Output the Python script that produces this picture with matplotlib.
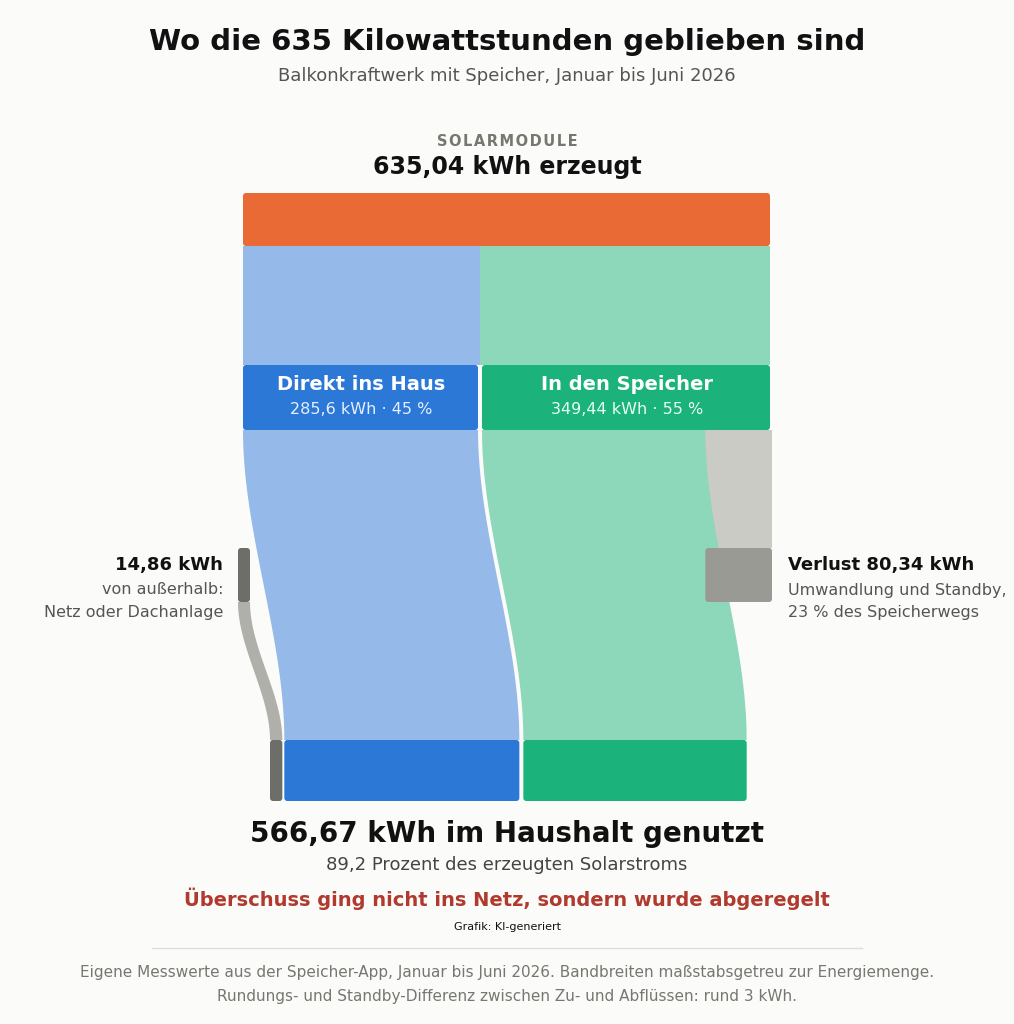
"""Sankey-style Energiefluss eines Balkonkraftwerks mit Speicher."""
import matplotlib

matplotlib.use("Agg")
import matplotlib.pyplot as plt
import numpy as np
from matplotlib.patches import FancyBboxPatch, Rectangle

plt.rcParams["font.family"] = ["DejaVu Sans"]

# data (kWh)
generated = 635.04
direct = 285.6
storage = 349.44
loss = 80.34
outside = 14.86
used = 566.67
share_direct = 45
share_storage = 55

BG = "#fbfbfa"
ORANGE = "#ea6a35"
BLUE_L, BLUE = "#95b9e9", "#2b78d6"
GREEN_L, GREEN = "#8dd7bb", "#1bb27c"
GRAY_L, GRAY_N, GRAY_D, GRAY_B = "#cbcbc6", "#9a9a94", "#6e6e68", "#b0b0aa"

fig = plt.figure(figsize=(10.14, 10.24), dpi=100, facecolor=BG)
ax = fig.add_axes([0, 0, 1, 1])
ax.set_xlim(0, 1014)
ax.set_ylim(1024, 0)
ax.axis("off")

scale = 527 / generated  # px per kWh
x0 = 243
gap = 2


def node(x, y, w, h, color):
    ax.add_patch(FancyBboxPatch((x, y), w, h, boxstyle="round,pad=0,rounding_size=3",
                                fc=color, ec="none", zorder=3))


def band(xl0, xr0, y0, xl1, xr1, y1, color, z=1):
    t = np.linspace(0, 1, 120)
    s = 3 * t ** 2 - 2 * t ** 3
    ys = y0 + (y1 - y0) * t
    left = xl0 + (xl1 - xl0) * s
    right = xr0 + (xr1 - xr0) * s
    ax.fill(np.r_[left, right[::-1]], np.r_[ys, ys[::-1]], color=color, lw=0, zorder=z)


w_dir = direct * scale
w_sto = storage * scale
w_loss = loss * scale
w_sto_house = (storage - loss) * scale
w_out = outside * scale

# top node
node(x0, 193, w_dir + w_sto, 53, ORANGE)
# flows top -> middle
ax.add_patch(Rectangle((x0, 246), w_dir, 119, fc=BLUE_L, ec="none", zorder=1))
ax.add_patch(Rectangle((x0 + w_dir, 246), w_sto, 119, fc=GREEN_L, ec="none", zorder=1))
# middle nodes
node(x0, 365, w_dir - gap, 65, BLUE)
node(x0 + w_dir + gap, 365, w_sto - gap, 65, GREEN)

# bottom layout
xb_out = 270
xb_dir = xb_out + w_out + 2
xb_sto = xb_dir + w_dir + 2
xs = x0 + w_dir + gap
x_loss = xs + w_sto_house

# loss flow and node
ax.add_patch(Rectangle((x_loss, 430), w_loss, 118, fc=GRAY_L, ec="none", zorder=1))
node(x_loss, 548, w_loss, 54, GRAY_N)
# flows middle -> bottom
band(x0, x0 + w_dir - gap, 430, xb_dir, xb_dir + w_dir - gap, 740, BLUE_L)
band(xs, x_loss, 430, xb_sto, xb_sto + w_sto_house, 740, GREEN_L, z=2)
# outside flow
band(238, 250, 602, xb_out, xb_out + w_out, 740, GRAY_B)
node(238, 548, 12, 54, GRAY_D)
# bottom nodes
node(xb_out, 740, w_out, 61, GRAY_D)
node(xb_dir, 740, w_dir - gap, 61, BLUE)
node(xb_sto, 740, w_sto_house, 61, GREEN)


def fmt(v, d=2):
    return f"{v:.{d}f}".rstrip("0").rstrip(",").replace(".", ",") if d else str(v)


# texts
ax.text(507, 42, "Wo die 635 Kilowattstunden geblieben sind", ha="center", va="center",
        fontsize=21, fontweight="bold", color="#111111")
ax.text(507, 76, "Balkonkraftwerk mit Speicher, Januar bis Juni 2026", ha="center",
        va="center", fontsize=13, color="#555555")
ax.text(507, 141, "S O L A R M O D U L E".replace(" ", "\u200a"), ha="center", va="center",
        fontsize=10.5, fontweight="bold", color="#777770")
ax.text(507, 167, f"{generated:.2f}".replace(".", ",") + " kWh erzeugt", ha="center",
        va="center", fontsize=17, fontweight="bold", color="#111111")

ax.text(x0 + w_dir / 2, 385, "Direkt ins Haus", ha="center", va="center", fontsize=14,
        fontweight="bold", color="white", zorder=4)
ax.text(x0 + w_dir / 2, 410, f"{str(direct).replace('.', ',')} kWh · {share_direct} %",
        ha="center", va="center", fontsize=11.5, color="#e6efff", zorder=4)
ax.text(xs + w_sto / 2, 385, "In den Speicher", ha="center", va="center", fontsize=14,
        fontweight="bold", color="white", zorder=4)
ax.text(xs + w_sto / 2, 410, f"{str(storage).replace('.', ',')} kWh · {share_storage} %",
        ha="center", va="center", fontsize=11.5, color="#e6fff4", zorder=4)

ax.text(223, 565, f"{str(outside).replace('.', ',')} kWh", ha="right", va="center",
        fontsize=13, fontweight="bold", color="#111111")
ax.text(223, 590, "von außerhalb:", ha="right", va="center", fontsize=11.5, color="#555555")
ax.text(223, 613, "Netz oder Dachanlage", ha="right", va="center", fontsize=11.5,
        color="#555555")
ax.text(788, 565, f"Verlust {str(loss).replace('.', ',')} kWh", ha="left", va="center",
        fontsize=13, fontweight="bold", color="#111111")
ax.text(788, 590, "Umwandlung und Standby,", ha="left", va="center", fontsize=11.5,
        color="#555555")
ax.text(788, 613, f"{round(loss / storage * 100)} % des Speicherwegs", ha="left",
        va="center", fontsize=11.5, color="#555555")

ax.text(507, 834, f"{str(used).replace('.', ',')} kWh im Haushalt genutzt", ha="center",
        va="center", fontsize=20, fontweight="bold", color="#111111")
ax.text(507, 865, f"{used / generated * 100:.1f}".replace(".", ",")
        + " Prozent des erzeugten Solarstroms", ha="center", va="center", fontsize=13,
        color="#444444")
ax.text(507, 899, "Überschuss ging nicht ins Netz, sondern wurde abgeregelt", ha="center",
        va="center", fontsize=14, fontweight="bold", color="#b03a2e")
ax.text(507, 927, "Grafik: KI-generiert", ha="center", va="center", fontsize=8,
        color="#111111")
ax.plot([152, 862], [948, 948], color="#dddddd", lw=1)
ax.text(507, 973, "Eigene Messwerte aus der Speicher-App, Januar bis Juni 2026. "
        "Bandbreiten maßstabsgetreu zur Energiemenge.", ha="center", va="center",
        fontsize=11, color="#777770")
ax.text(507, 997, "Rundungs- und Standby-Differenz zwischen Zu- und Abflüssen: rund 3 kWh.",
        ha="center", va="center", fontsize=11, color="#777770")

fig.savefig("out.png", dpi=100, facecolor=BG)
